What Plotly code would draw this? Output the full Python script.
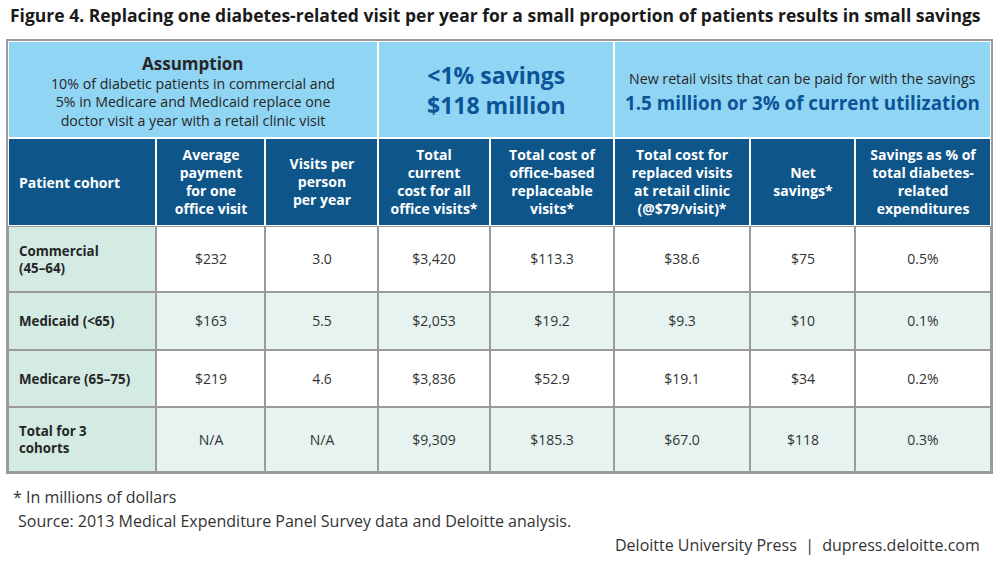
import plotly.graph_objects as go
import numpy as np

# ---------------- data ----------------
title = "Figure 4. Replacing one diabetes-related visit per year for a small proportion of patients results in small savings"

cohorts = ["Commercial<br>(45–64)", "Medicaid (<65)", "Medicare (65–75)", "Total for 3<br>cohorts"]
avg_payment = [232, 163, 219, None]
visits_per_year = [3.0, 5.5, 4.6, None]
total_current_cost = [3420, 2053, 3836, 9309]
replaceable_cost = [113.3, 19.2, 52.9, 185.3]
retail_cost = [38.6, 9.3, 19.1, 67.0]
net_savings = [75, 10, 34, 118]
savings_pct = [0.5, 0.1, 0.2, 0.3]

headers = [
    "Patient cohort",
    "Average<br>payment<br>for one<br>office visit",
    "Visits per<br>person<br>per year",
    "Total<br>current<br>cost for all<br>office visits*",
    "Total cost of<br>office-based<br>replaceable<br>visits*",
    "Total cost for<br>replaced visits<br>at retail clinic<br>(@$79/visit)*",
    "Net<br>savings*",
    "Savings as % of<br>total diabetes-<br>related<br>expenditures",
]

assumption_title = "Assumption"
assumption_text = ("10% of diabetic patients in commercial and<br>"
                   "5% in Medicare and Medicaid replace one<br>"
                   "doctor visit a year with a retail clinic visit")
savings_headline = "&lt;1% savings<br>$118 million"
retail_intro = "New retail visits that can be paid for with the savings"
retail_headline = "1.5 million or 3% of current utilization"

footnote = "* In millions of dollars"
source = "Source: 2013 Medical Expenditure Panel Survey data and Deloitte analysis."
credit = "Deloitte University Press  |  dupress.deloitte.com"

# ---------------- layout geometry (px) ----------------
col_widths = [148, 109, 113, 112, 124, 136, 105, 136]
band_widths = [370, 236, 377]
band_h, header_h = 97, 88
row_heights = [66, 58, 57, 65]

col_edges = np.concatenate([[0], np.cumsum(col_widths)])
band_edges = np.concatenate([[0], np.cumsum(band_widths)])
body_edges = np.concatenate([[band_h + header_h], band_h + header_h + np.cumsum(row_heights)])
total_w = int(col_edges[-1])
total_h = int(body_edges[-1])

TABLE_LEFT, TABLE_TOP = 8, 41
FIG_W, FIG_H = 1000, 568
M_L = TABLE_LEFT
M_T = TABLE_TOP
M_R = FIG_W - M_L - total_w
M_B = FIG_H - M_T - total_h


def px(xp):
    return (xp - TABLE_LEFT) / total_w


def py(yp):
    return (TABLE_TOP + total_h - yp) / total_h


# colours
BAND = "#91d5f5"
HEAD = "#0e5589"
GREEN = "#d3ebe3"
WHITE = "#ffffff"
LIGHT = "#e6f3f0"
GRID = "#9b9b9b"
BLUE = "#0b5497"
TEXT = "#262626"
BODY = "#333333"
NOTE = "#333333"
FONT = "Open Sans"


def money0(v):
    return "N/A" if v is None else f"${v:,.0f}"


def money1(v):
    return f"${v:,.1f}"


def dec1(v):
    return "N/A" if v is None else f"{v:.1f}"


body_cols = [
    [""] * 4,
    [money0(v) for v in avg_payment],
    [dec1(v) for v in visits_per_year],
    [money0(v) for v in total_current_cost],
    [money1(v) for v in replaceable_cost],
    [money1(v) for v in retail_cost],
    [money0(v) for v in net_savings],
    [f"{v:.1f}%" for v in savings_pct],
]
body_text = [[body_cols[c][r] for c in range(8)] for r in range(4)]
# colour codes: 0 first column, 1 white row, 2 light row
body_z = [[0] + [1 if r % 2 == 0 else 2] * 7 for r in range(4)]

fig = go.Figure()

# top band
fig.add_trace(go.Heatmap(
    x=band_edges, y=[0, band_h], z=[[0, 0, 0]],
    colorscale=[[0, BAND], [1, BAND]], zmin=0, zmax=1, showscale=False,
    xgap=2, ygap=2, hoverinfo="skip"))

# header row
fig.add_trace(go.Heatmap(
    x=col_edges, y=[band_h, band_h + header_h], z=[[0] * 8],
    colorscale=[[0, HEAD], [1, HEAD]], zmin=0, zmax=1, showscale=False,
    xgap=2, ygap=2, hoverinfo="skip",
    text=[[""] + [f"<b>{h}</b>" for h in headers[1:]]], texttemplate="%{text}",
    textfont=dict(family=FONT, size=14, color="white")))

# body
fig.add_trace(go.Heatmap(
    x=col_edges, y=body_edges, z=body_z,
    colorscale=[[0, GREEN], [0.5, WHITE], [1, LIGHT]], zmin=0, zmax=2, showscale=False,
    xgap=2, ygap=2, hoverinfo="skip",
    text=body_text, texttemplate="%{text}",
    textfont=dict(family=FONT, size=14, color=BODY)))

annotations = []
# first column labels
annotations.append(dict(x=col_edges[0] + 9, y=band_h + header_h / 2, xref="x", yref="y",
                        text=f"<b>{headers[0]}</b>", showarrow=False, xanchor="left",
                        yanchor="middle", align="left",
                        font=dict(family=FONT, size=14, color="white")))
for r, name in enumerate(cohorts):
    annotations.append(dict(x=col_edges[0] + 9, y=(body_edges[r] + body_edges[r + 1]) / 2,
                            xref="x", yref="y", text=f"<b>{name}</b>", showarrow=False,
                            xanchor="left", yanchor="middle", align="left",
                            font=dict(family=FONT, size=13.3, color=TEXT)))

# top band texts
c0 = (band_edges[0] + band_edges[1]) / 2
c1 = (band_edges[1] + band_edges[2]) / 2
c2 = (band_edges[2] + band_edges[3]) / 2
annotations += [
    dict(x=c0, y=22, xref="x", yref="y", text=f"<b>{assumption_title}</b>", showarrow=False,
         yanchor="middle", font=dict(family=FONT, size=17, color=TEXT)),
    dict(x=c0, y=61, xref="x", yref="y", text=assumption_text, showarrow=False,
         yanchor="middle", align="center", font=dict(family=FONT, size=14.2, color=TEXT)),
    dict(x=c1, y=band_h / 2, xref="x", yref="y", text=f"<b>{savings_headline}</b>",
         showarrow=False, yanchor="middle", align="center",
         font=dict(family=FONT, size=23, color=BLUE)),
    dict(x=c2, y=37, xref="x", yref="y", text=retail_intro, showarrow=False,
         yanchor="middle", font=dict(family=FONT, size=14.2, color=TEXT)),
    dict(x=c2, y=62, xref="x", yref="y", text=f"<b>{retail_headline}</b>", showarrow=False,
         yanchor="middle", font=dict(family=FONT, size=18.8, color=BLUE)),
]

# titles and notes (positions in page pixels converted to paper coords)
annotations += [
    dict(x=px(8), y=py(15), xref="paper", yref="paper", text=f"<b>{title}</b>", showarrow=False,
         xanchor="left", yanchor="middle", font=dict(family=FONT, size=17.5, color="#1a1a1a")),
    dict(x=px(11), y=py(497), xref="paper", yref="paper", text=footnote, showarrow=False,
         xanchor="left", yanchor="middle", font=dict(family=FONT, size=16, color=NOTE)),
    dict(x=px(16), y=py(521), xref="paper", yref="paper", text=source, showarrow=False,
         xanchor="left", yanchor="middle", font=dict(family=FONT, size=16, color=NOTE)),
    dict(x=px(982), y=py(545), xref="paper", yref="paper", text=credit, showarrow=False,
         xanchor="right", yanchor="middle", font=dict(family=FONT, size=16, color=NOTE)),
]

fig.update_layout(
    width=FIG_W, height=FIG_H,
    margin=dict(l=M_L, r=M_R, t=M_T, b=M_B, pad=0),
    paper_bgcolor="white", plot_bgcolor=GRID,
    showlegend=False,
    annotations=annotations,
    shapes=[dict(type="rect", xref="x", yref="y", x0=0, x1=total_w, y0=0, y1=band_h + header_h,
                 fillcolor="white", line=dict(width=0), layer="below")],
)
axis_common = dict(showgrid=False, zeroline=False, showticklabels=False, ticks="",
                   showline=True, mirror=True, linecolor=GRID, linewidth=2, fixedrange=True)
fig.update_xaxes(range=[0, total_w], **axis_common)
fig.update_yaxes(range=[total_h, 0], **axis_common)

fig.write_html("out.html", post_script="document.body.style.margin='0px';",
               config={"displayModeBar": False})
